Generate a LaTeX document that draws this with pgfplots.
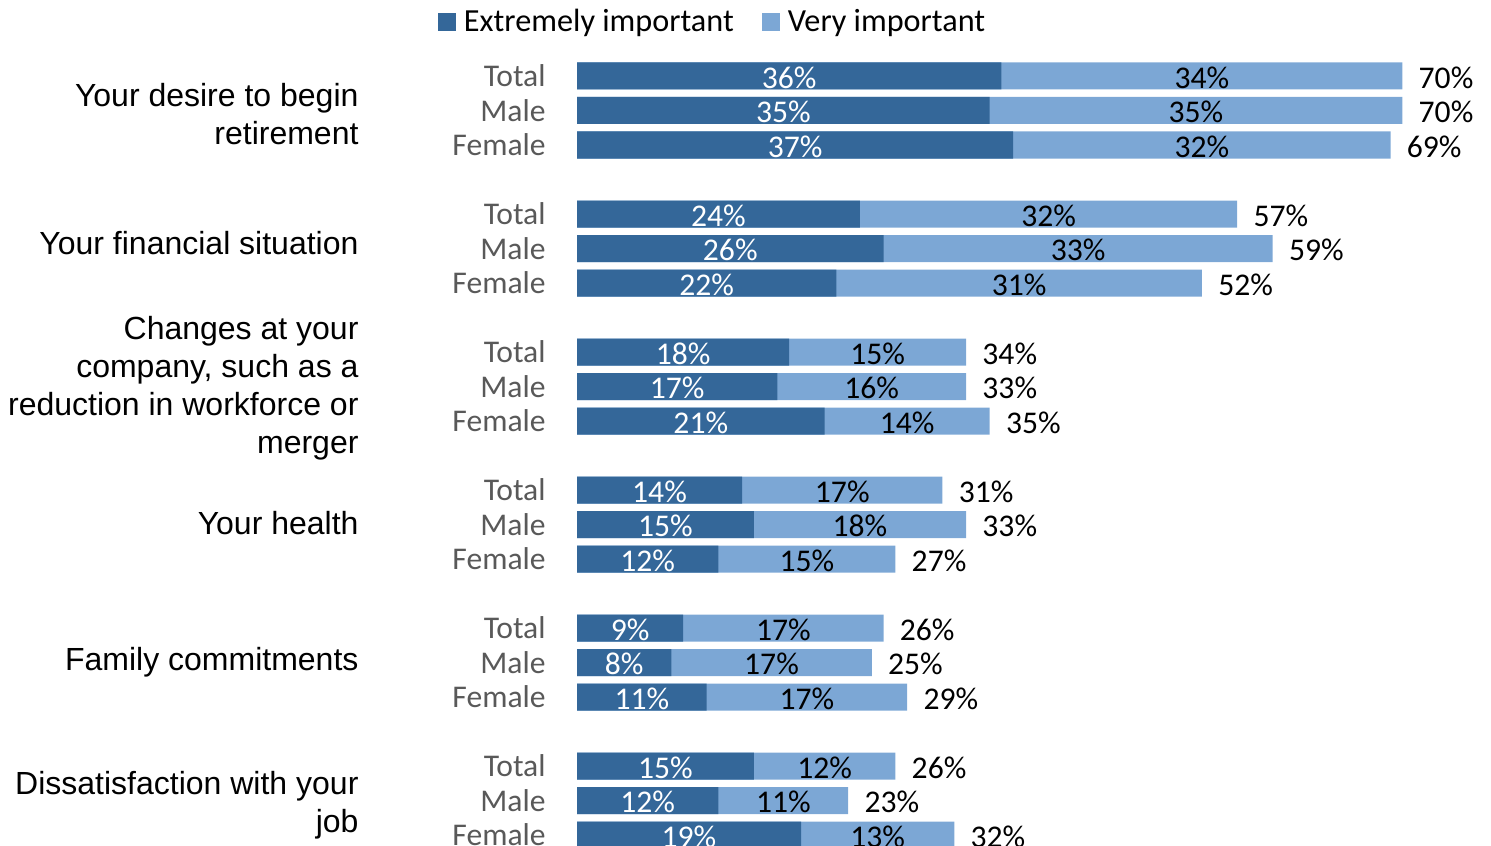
\documentclass[border=0pt]{standalone}
\usepackage{fontspec}
\setmainfont{Carlito}
\newfontfamily\arial{Liberation Sans}
\usepackage{pgfplots}
\usepackage{pgfplotstable}
\pgfplotsset{compat=1.18}
\definecolor{dk}{RGB}{52,103,153}
\definecolor{lt}{RGB}{124,167,213}
\definecolor{gr}{RGB}{89,89,89}
\newcommand\fs{\fontsize{15.8}{19}\selectfont}
\newcommand\fl{\fontsize{16.1}{19}\selectfont}
\newcommand\fa{\arial\fontsize{16}{19}\selectfont}
\pgfplotstableread{
y d l t
0 36 34 70
-1 35 35 70
-2 37 32 69
-4 24 32 57
-5 26 33 59
-6 22 31 52
-8 18 15 34
-9 17 16 33
-10 21 14 35
-12 14 17 31
-13 15 18 33
-14 12 15 27
-16 9 17 26
-17 8 17 25
-18 11 17 29
-20 15 12 26
-21 12 11 23
-22 19 13 32
}\data
\begin{document}
\begin{tikzpicture}
\begin{axis}[
  at={(288.5pt,-3.5pt)}, anchor=north west,
  x=5.895pt, y=17.25pt,
  xmin=0, xmax=80, ymin=-24, ymax=2,
  enlargelimits=false,
  xbar, bar shift=0pt, bar width=13.5pt,
  axis line style={draw=none}, major tick length=0pt,
  xtick=\empty,
  ytick={0,-1,-2,-4,-5,-6,-8,-9,-10,-12,-13,-14,-16,-17,-18,-20,-21,-22},
  yticklabels={Total,Male,Female,Total,Male,Female,Total,Male,Female,Total,Male,Female,Total,Male,Female,Total,Male,Female},
  yticklabel style={anchor=east, inner sep=0pt, xshift=-15.5pt, text=gr, font=\fs},
  clip=false,
  /pgf/number format/assume math mode=true,
  legend columns=2,
  legend style={draw=none, fill=none, inner sep=0pt, outer sep=0pt, at={(-0.1474,0.9833)}, anchor=west, font=\fl, nodes={inner sep=0pt, text=black}, /tikz/every odd column/.append style={column sep=4pt}, /tikz/every even column/.append style={column sep=14pt}},
  legend cell align=left,
  legend image code/.code={\fill[#1] (0pt,-4.5pt) rectangle (9pt,4.5pt);},
]
\addlegendimage{fill=dk, draw=none}
\addlegendentry{Extremely important}
\addlegendimage{fill=lt, draw=none}
\addlegendentry{Very important}
% light bar: full length (extremely + very), with total label
\addplot[forget plot, fill=lt, draw=none, nodes near coords={\pgfmathprintnumber{\pgfplotspointmeta}\%}, point meta=\thisrow{t}, every node near coord/.style={anchor=west, text=black, font=\fs, inner sep=0pt, xshift=8pt, yshift=-0.8pt}] table[x expr=\thisrow{d}+\thisrow{l}, y=y] {\data};
% dark bar on top
\addplot[forget plot, fill=dk, draw=none, nodes near coords={\pgfmathprintnumber{\pgfplotspointmeta}\%}, point meta=\thisrow{d}, visualization depends on=\thisrow{d} \as \segw, every node near coord/.style={anchor=center, text=white, font=\fs, inner sep=0pt, yshift=-0.8pt, xshift={-0.5*\segw*5.895pt}}] table[x=d, y=y] {\data};
% labels of the light segments
\addplot[forget plot, fill=none, draw=none, nodes near coords={\pgfmathprintnumber{\pgfplotspointmeta}\%}, point meta=\thisrow{l}, visualization depends on=\thisrow{l} \as \segw, every node near coord/.style={anchor=center, text=black, font=\fs, inner sep=0pt, yshift=-0.8pt, xshift={-0.5*\segw*5.895pt}}] table[x expr=\thisrow{d}+\thisrow{l}, y=y] {\data};
\node[anchor=east, align=right, font=\fa, inner sep=0pt] at (axis cs:-18.5,-1.1) {Your desire to begin\\retirement};
\node[anchor=east, align=right, font=\fa, inner sep=0pt] at (axis cs:-18.5,-4.85) {Your financial situation};
\node[anchor=east, align=right, font=\fa, inner sep=0pt] at (axis cs:-18.5,-9.05) {Changes at your\\company, such as a\\reduction in workforce or\\merger};
\node[anchor=east, align=right, font=\fa, inner sep=0pt] at (axis cs:-18.5,-12.95) {Your health};
\node[anchor=east, align=right, font=\fa, inner sep=0pt] at (axis cs:-18.5,-16.98) {Family commitments};
\node[anchor=east, align=right, font=\fa, inner sep=0pt] at (axis cs:-18.5,-21.15) {Dissatisfaction with your\\job};
\end{axis}
\pgfresetboundingbox
\path[use as bounding box] (0pt,0pt) rectangle (745.5pt,-422.5pt);
\end{tikzpicture}
\end{document}
